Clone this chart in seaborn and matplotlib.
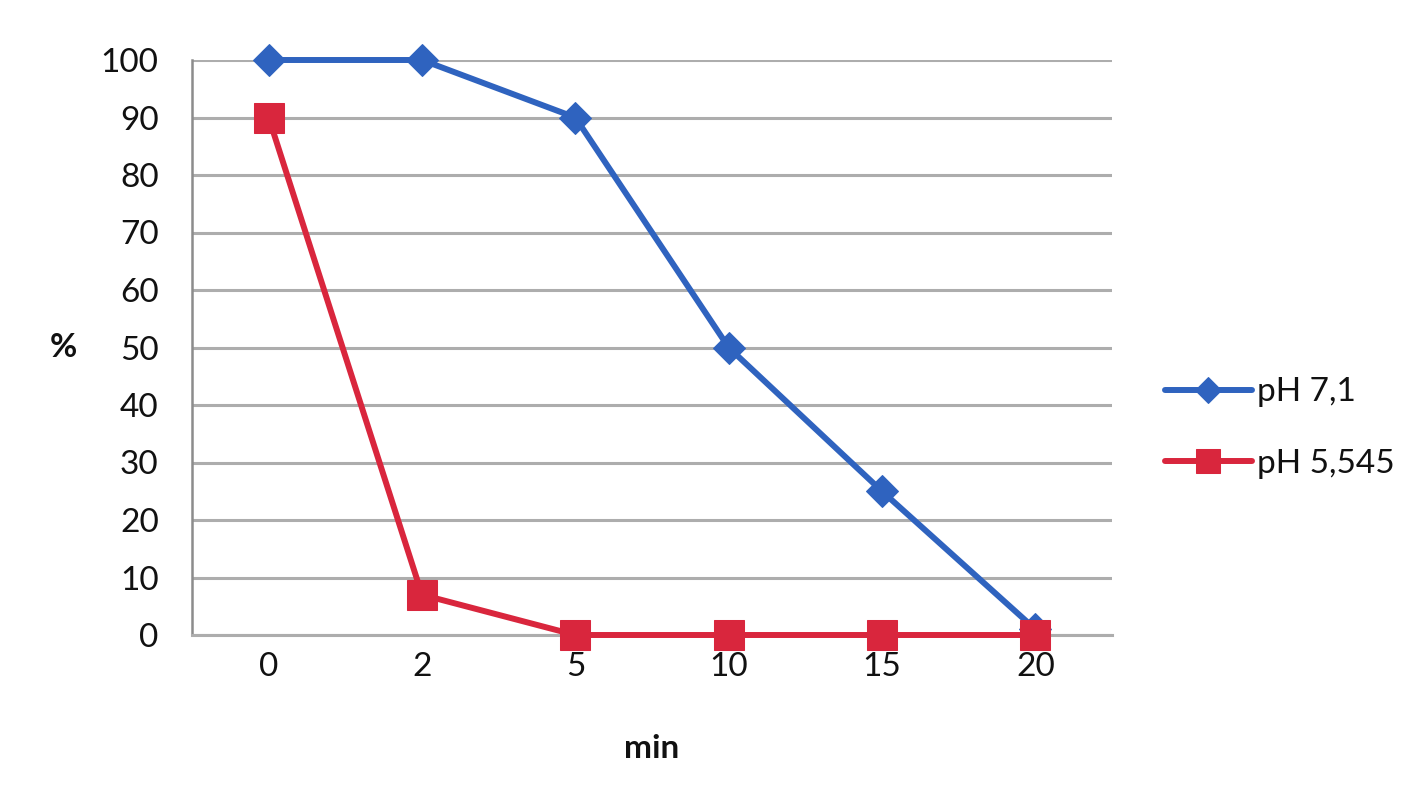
import matplotlib
matplotlib.use("Agg")
import matplotlib.pyplot as plt
import seaborn as sns
import pandas as pd
import numpy as np

minutes = ["0", "2", "5", "10", "15", "20"]
ph71 = [100, 100, 90, 50, 25, 1]
ph5545 = [90, 7, 0, 0, 0, 0]
series_names = ["pH 7,1", "pH 5,545"]
y_ticks = [0, 10, 20, 30, 40, 50, 60, 70, 80, 90, 100]

sns.set_style("white")
plt.rcParams["font.family"] = ["Lato", "DejaVu Sans"]

blue = "#2F63BF"
red = "#D9263D"
grid_c = "#ADADAD"
axis_c = "#8C8C8C"

fig = plt.figure(figsize=(14.21, 8), dpi=100)
ax = fig.add_axes([192/1421, 165/800, (1112-192)/1421, (635-60)/800])

df1 = pd.DataFrame({"min": minutes, "val": ph71})
df2 = pd.DataFrame({"min": minutes, "val": ph5545})

sns.lineplot(data=df1, x="min", y="val", ax=ax, color=blue, lw=4.3, marker="D",
             markersize=16, markeredgecolor=blue, label=series_names[0], sort=False,
             clip_on=False, zorder=3)
sns.lineplot(data=df2, x="min", y="val", ax=ax, color=red, lw=4.3, marker="s",
             markersize=22, markeredgecolor=red, label=series_names[1], sort=False,
             clip_on=False, zorder=4)

ax.set_xlim(-0.5, len(minutes) - 0.5)
ax.set_ylim(0, 100)
ax.set_yticks(y_ticks)
ax.set_yticklabels([str(v) for v in y_ticks])
ax.yaxis.grid(True, color=grid_c, lw=2.2)
ax.xaxis.grid(False)
ax.set_axisbelow(True)

# x: major ticks at category boundaries, labels at centers
ax.set_xticks(np.arange(-0.5, len(minutes), 1.0))
ax.set_xticklabels([""] * (len(minutes) + 1))
ax.set_xticks(np.arange(len(minutes)), minor=True)
ax.set_xticklabels(minutes, minor=True)
ax.tick_params(axis="x", which="major", length=8, width=1.8, color=axis_c, direction="out")
ax.tick_params(axis="x", which="minor", length=0, pad=12, labelsize=24, labelcolor="#111111")
ax.tick_params(axis="y", length=11, width=2.2, color=grid_c, direction="out", pad=13,
               labelsize=24, labelcolor="#111111")

for s in ["top", "right"]:
    ax.spines[s].set_visible(False)
ax.spines["left"].set_color(axis_c)
ax.spines["left"].set_linewidth(1.8)
ax.spines["bottom"].set_color(grid_c)
ax.spines["bottom"].set_linewidth(2.2)

ax.set_xlabel("min", fontsize=24, fontweight="bold", labelpad=38, color="#111111")
ax.set_ylabel("%", fontsize=24, fontweight="bold", rotation=0, va="center", color="#111111")
ax.yaxis.set_label_coords(-0.14, 0.5)

leg = ax.legend(loc="center left", bbox_to_anchor=(1.025, 0.36), frameon=False,
                fontsize=24, handlelength=2.6, handletextpad=0.15, labelspacing=1.25,
                markerscale=0.8)
for t in leg.get_texts():
    t.set_color("#111111")

fig.savefig("out.png", dpi=100)
